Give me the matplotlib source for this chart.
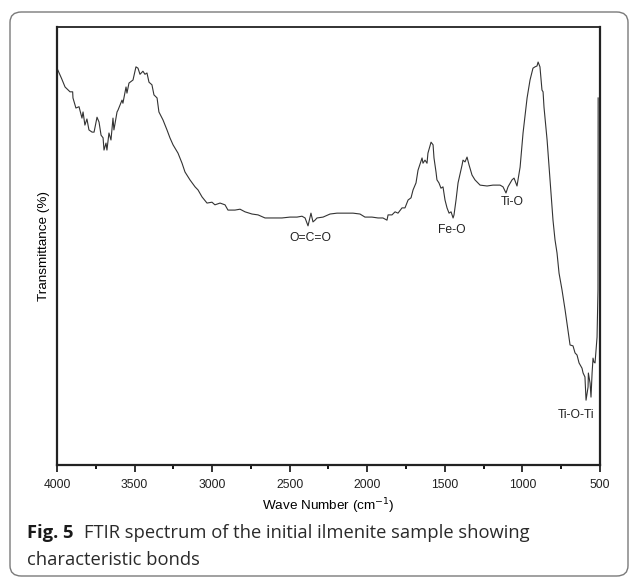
import matplotlib
matplotlib.use("Agg")
import matplotlib.pyplot as plt
from matplotlib.patches import FancyBboxPatch
from matplotlib.ticker import MultipleLocator

# FTIR spectrum (wavenumber in cm-1, transmittance in arbitrary %)
wavenumber = [
    4000, 3970, 3948, 3916, 3899, 3897, 3878, 3858, 3839, 3832, 3820, 3807, 3794, 3774,
    3761, 3742, 3729, 3716, 3703, 3697, 3684, 3678, 3665, 3652, 3639, 3633, 3613, 3607,
    3581, 3575, 3555, 3549, 3536, 3510, 3491, 3478, 3465, 3446, 3433, 3420, 3407, 3388,
    3375, 3355, 3343, 3317, 3291, 3272, 3252, 3220, 3194, 3175, 3143, 3110, 3091, 3065,
    3033, 3001, 2982, 2949, 2917, 2898, 2853, 2820, 2788, 2743, 2704, 2659, 2614, 2550,
    2498, 2453, 2421, 2401, 2382, 2363, 2350, 2337, 2324, 2285, 2240, 2195, 2131, 2092,
    2047, 2015, 1970, 1931, 1899, 1873, 1866, 1841, 1821, 1802, 1776, 1757, 1737, 1718,
    1705, 1686, 1673, 1647, 1641, 1628, 1615, 1609, 1589, 1576, 1570, 1557, 1551, 1538,
    1525, 1512, 1499, 1486, 1473, 1460, 1447, 1441, 1428, 1415, 1389, 1383, 1370, 1357,
    1344, 1325, 1306, 1273, 1228, 1190, 1144, 1125, 1106, 1093, 1067, 1054, 1035, 1015,
    996, 970, 951, 932, 919, 906, 899, 887, 874, 867, 861, 841, 822, 803, 790, 777, 764,
    745, 725, 713, 693, 674, 661, 648, 635, 616, 609, 597, 590, 577, 575, 564, 558, 551,
    545, 539, 532, 519, 513, 512,
]
transmittance = [
    90.6, 88.2, 86.3, 85.2, 85.2, 83.8, 81.5, 81.8, 79.2, 80.6, 77.6, 79.0, 76.5, 76.0,
    76.0, 79.4, 78.3, 75.3, 74.7, 71.9, 73.5, 71.9, 75.8, 74.2, 79.2, 76.5, 80.6, 81.0,
    83.3, 82.6, 86.3, 84.9, 87.2, 87.9, 90.9, 90.6, 89.2, 89.9, 89.2, 89.5, 87.4, 86.8,
    84.5, 83.8, 80.6, 78.8, 76.5, 74.7, 73.1, 71.2, 68.9, 66.9, 65.1, 63.5, 62.8, 61.2,
    59.8, 60.0, 59.4, 59.8, 59.4, 58.2, 58.2, 58.4, 57.8, 57.3, 57.1, 56.4, 56.4, 56.4,
    56.6, 56.6, 56.8, 56.4, 54.6, 57.5, 55.5, 55.9, 56.4, 56.6, 57.3, 57.5, 57.5, 57.5,
    57.3, 56.6, 56.6, 56.4, 56.4, 55.9, 57.1, 57.1, 57.8, 57.5, 58.7, 58.7, 60.5, 61.0,
    62.8, 64.4, 67.3, 70.1, 68.9, 69.6, 68.9, 71.2, 73.7, 73.1, 70.1, 66.9, 65.1, 64.4,
    63.2, 63.5, 60.5, 58.7, 57.5, 57.8, 56.4, 57.1, 60.5, 64.4, 68.5, 69.6, 69.2, 70.3,
    68.5, 66.2, 65.1, 63.9, 63.7, 63.9, 63.9, 63.5, 62.1, 63.5, 65.1, 65.5, 63.7, 68.0,
    75.8, 83.8, 87.9, 90.6, 90.9, 91.1, 92.0, 90.9, 85.6, 85.2, 81.7, 74.2, 65.1, 55.9,
    51.4, 48.4, 43.8, 40.0, 35.4, 32.4, 27.4, 27.2, 25.6, 25.1, 23.3, 22.1, 21.0, 20.1,
    14.8, 17.8, 21.0, 18.7, 15.5, 21.0, 24.4, 23.5, 23.3, 29.2, 40.0, 83.8,
]

band_labels = ["O=C=O", "Fe-O", "Ti-O", "Ti-O-Ti"]
band_x = [2369, 1454, 1067, 654]
band_y = [51.8, 53.7, 60.0, 11.4]

fig = plt.figure(figsize=(6.29, 5.78), dpi=100)
ax = fig.add_axes([0.0906, 0.1955, 0.8633, 0.7578])

ax.plot(wavenumber, transmittance, color="#333333", lw=0.8)

for lab, bx, by in zip(band_labels, band_x, band_y):
    ax.text(bx, by, lab, ha="center", va="center", fontsize=8.7,
            family="Liberation Sans", color="#222222")

ax.set_xlim(4000, 500)
ax.set_ylim(0, 100)
ax.xaxis.set_major_locator(MultipleLocator(500))
ax.xaxis.set_minor_locator(MultipleLocator(250))
ax.set_yticks([])
ax.tick_params(axis="x", which="major", direction="out", length=5, width=1.3,
               labelsize=8.7, pad=5, colors="#222222")
ax.tick_params(axis="x", which="minor", direction="out", length=3, width=1.3)
for lbl in ax.get_xticklabels():
    lbl.set_family("Liberation Sans")
for side in ["left", "bottom", "right"]:
    ax.spines[side].set_linewidth(1.6)
ax.spines["top"].set_linewidth(1.3)
for s in ax.spines.values():
    s.set_color("#222222")

ax.set_xlabel("Wave Number (cm$^{-1}$)", fontsize=9.7, family="Liberation Sans",
              labelpad=4)
ax.set_ylabel("Transmittance (%)", fontsize=9.7, family="Liberation Sans",
              labelpad=5)

# rounded frame around figure + caption
frame = FancyBboxPatch((10 / 629, 2 / 578), 618 / 629, 564 / 578,
                       boxstyle="round,pad=0,rounding_size=0.018",
                       transform=fig.transFigure, fill=False,
                       edgecolor="#7a7a7a", lw=1.0)
fig.patches.append(frame)

y1 = 1 - 533 / 578
y2 = 1 - 560 / 578
t1 = fig.text(27 / 629, y1, "Fig. 5", fontsize=13.2, weight="bold",
              family="Open Sans", va="center", color="#1a1a1a")
fig.canvas.draw()
bb = t1.get_window_extent(fig.canvas.get_renderer())
x_next = (bb.x1 + 10) / fig.bbox.width
fig.text(x_next, y1, "FTIR spectrum of the initial ilmenite sample showing",
         fontsize=13.2, family="Open Sans", va="center", color="#2a2a2a")
fig.text(27 / 629, y2, "characteristic bonds", fontsize=13.2,
         family="Open Sans", va="center", color="#2a2a2a")

fig.savefig("out.png", dpi=100)
